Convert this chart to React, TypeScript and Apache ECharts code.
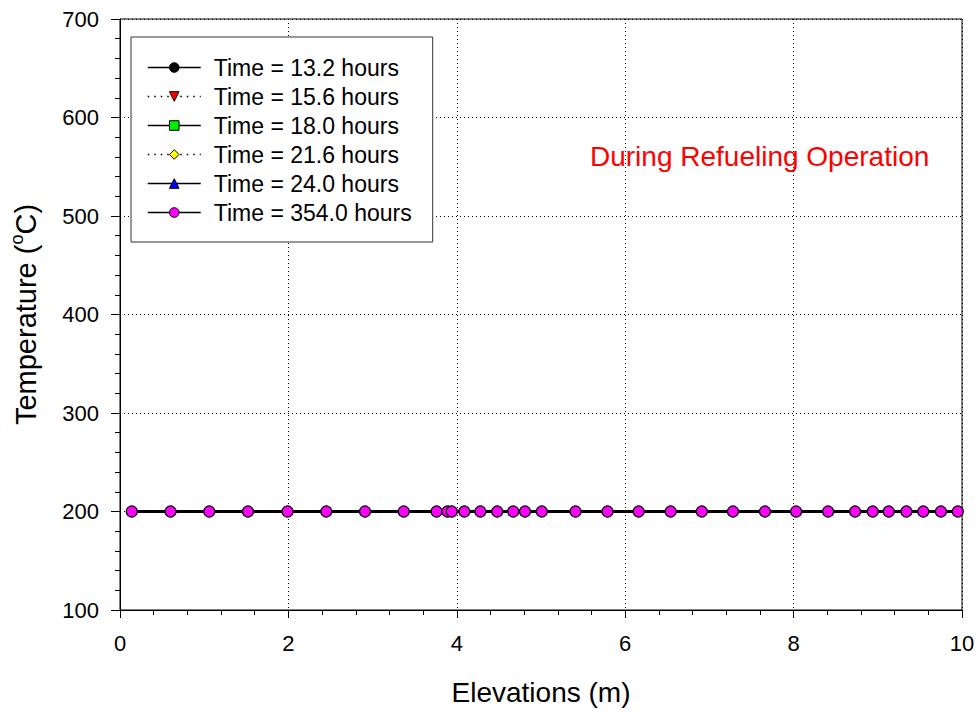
import React, { useEffect, useRef } from "react";
import * as echarts from "echarts";

const elevations = [0.14, 0.6, 1.06, 1.52, 1.99, 2.45, 2.91, 3.37, 3.76, 3.89, 3.94, 4.09, 4.28, 4.48, 4.67, 4.81, 5.01, 5.41, 5.79, 6.16, 6.54, 6.91, 7.28, 7.66, 8.03, 8.41, 8.73, 8.94, 9.13, 9.34, 9.54, 9.75, 9.95];

const temp132 = [200, 200, 200, 200, 200, 200, 200, 200, 200, 200, 200, 200, 200, 200, 200, 200, 200, 200, 200, 200, 200, 200, 200, 200, 200, 200, 200, 200, 200, 200, 200, 200, 200];
const temp156 = [200, 200, 200, 200, 200, 200, 200, 200, 200, 200, 200, 200, 200, 200, 200, 200, 200, 200, 200, 200, 200, 200, 200, 200, 200, 200, 200, 200, 200, 200, 200, 200, 200];
const temp180 = [200, 200, 200, 200, 200, 200, 200, 200, 200, 200, 200, 200, 200, 200, 200, 200, 200, 200, 200, 200, 200, 200, 200, 200, 200, 200, 200, 200, 200, 200, 200, 200, 200];
const temp216 = [200, 200, 200, 200, 200, 200, 200, 200, 200, 200, 200, 200, 200, 200, 200, 200, 200, 200, 200, 200, 200, 200, 200, 200, 200, 200, 200, 200, 200, 200, 200, 200, 200];
const temp240 = [200, 200, 200, 200, 200, 200, 200, 200, 200, 200, 200, 200, 200, 200, 200, 200, 200, 200, 200, 200, 200, 200, 200, 200, 200, 200, 200, 200, 200, 200, 200, 200, 200];
const temp3540 = [200, 200, 200, 200, 200, 200, 200, 200, 200, 200, 200, 200, 200, 200, 200, 200, 200, 200, 200, 200, 200, 200, 200, 200, 200, 200, 200, 200, 200, 200, 200, 200, 200];

const seriesNames = ["Time = 13.2 hours", "Time = 15.6 hours", "Time = 18.0 hours", "Time = 21.6 hours", "Time = 24.0 hours", "Time = 354.0 hours"];
const seriesValues = [temp132, temp156, temp180, temp216, temp240, temp3540];
const seriesColors = ["#000000", "#ff0000", "#00ee00", "#ffff00", "#0000ff", "#ff00ff"];
const seriesSymbols = ["circle", "triangle", "rect", "diamond", "triangle", "circle"];
const seriesRotate = [0, 180, 0, 0, 0, 0];
const seriesDotted = [false, true, false, true, false, false];

const xTicks = [0, 2, 4, 6, 8, 10];
const yTicks = [100, 200, 300, 400, 500, 600, 700];

const FONT = "Arial, 'Liberation Sans', sans-serif";

export default function App() {
  const ref = useRef<HTMLDivElement>(null);
  useEffect(() => {
    if (!ref.current) return;
    const chart = echarts.init(ref.current, undefined, { renderer: "svg" });
    const last = seriesNames.length - 1;
    const series = seriesNames.map((name, i) => ({
      name,
      type: "line",
      data: elevations.map((x, j) => [x, seriesValues[i][j]]),
      symbol: seriesSymbols[i],
      symbolRotate: seriesRotate[i],
      symbolSize: i === last ? 11 : 7,
      showAllSymbol: true,
      z: 2 + i,
      lineStyle: { color: "#000", width: seriesDotted[i] ? 1.5 : 2.5, type: seriesDotted[i] ? [1.5, 4] : "solid" },
      itemStyle: { color: seriesColors[i], borderColor: "#000", borderWidth: 1.2, opacity: 1 },
    }));
    chart.setOption({
      animation: false,
      backgroundColor: "#fff",
      textStyle: { fontFamily: FONT },
      grid: { left: 118, right: 18, top: 19, bottom: 103, show: true, borderColor: "#000", borderWidth: 1, backgroundColor: "transparent" },
      legend: {
        orient: "vertical",
        left: 131,
        top: 37,
        padding: [19, 21, 18, 16],
        itemWidth: 53,
        itemHeight: 12,
        itemGap: 6,
        backgroundColor: "#fff",
        borderColor: "#333",
        borderWidth: 1,
        borderRadius: 0,
        textStyle: { fontFamily: FONT, fontSize: 23, color: "#000", lineHeight: 23, padding: [0, 0, 0, 8] },
        data: seriesNames.map((name, i) => ({
          name,
          lineStyle: { width: 1.5, color: "#000", type: seriesDotted[i] ? [1.5, 5] : "solid" },
          itemStyle: { color: seriesColors[i], borderColor: "#000", borderWidth: 1 },
        })),
      },
      xAxis: {
        type: "value",
        min: xTicks[0],
        max: xTicks[xTicks.length - 1],
        interval: 2,
        name: "Elevations (m)",
        nameLocation: "middle",
        nameGap: 68,
        nameTextStyle: { fontFamily: FONT, fontSize: 28, color: "#000" },
        axisLine: { lineStyle: { color: "#000", width: 1 } },
        axisTick: { show: true, inside: false, length: 8, lineStyle: { color: "#000" } },
        minorTick: { show: true, splitNumber: 5, length: 5, lineStyle: { color: "#000" } },
        axisLabel: { fontFamily: FONT, fontSize: 22, color: "#000", margin: 22 },
        splitLine: { show: true, lineStyle: { color: "#000", type: [1, 3], width: 1 } },
      },
      yAxis: {
        type: "value",
        min: yTicks[0],
        max: yTicks[yTicks.length - 1],
        interval: 100,
        name: "{a|Temperature (}{sup|o}{a|C)}",
        nameLocation: "middle",
        nameGap: 80,
        nameRotate: 90,
        nameTextStyle: {
          fontFamily: FONT,
          color: "#000",
          rich: {
            a: { fontFamily: FONT, fontSize: 29, color: "#000", lineHeight: 32, verticalAlign: "bottom" },
            sup: { fontFamily: FONT, fontSize: 18, color: "#000", lineHeight: 32, verticalAlign: "top" },
          },
        },
        axisLine: { lineStyle: { color: "#000", width: 1 } },
        axisTick: { show: true, inside: false, length: 9, lineStyle: { color: "#000" } },
        minorTick: { show: true, splitNumber: 5, length: 5, lineStyle: { color: "#000" } },
        axisLabel: { fontFamily: FONT, fontSize: 22, color: "#000", margin: 21 },
        splitLine: { show: true, lineStyle: { color: "#000", type: [1, 3], width: 1 } },
      },
      graphic: [
        {
          type: "text",
          x: 590,
          y: 156,
          style: { text: "During Refueling Operation", fill: "#ff0000", fontSize: 28, fontFamily: FONT, textVerticalAlign: "middle", verticalAlign: "middle" },
        },
      ],
      series,
    });
    return () => chart.dispose();
  }, []);
  return <div ref={ref} style={{ position: "fixed", left: 0, top: 0, width: 980, height: 713 }} />;
}
